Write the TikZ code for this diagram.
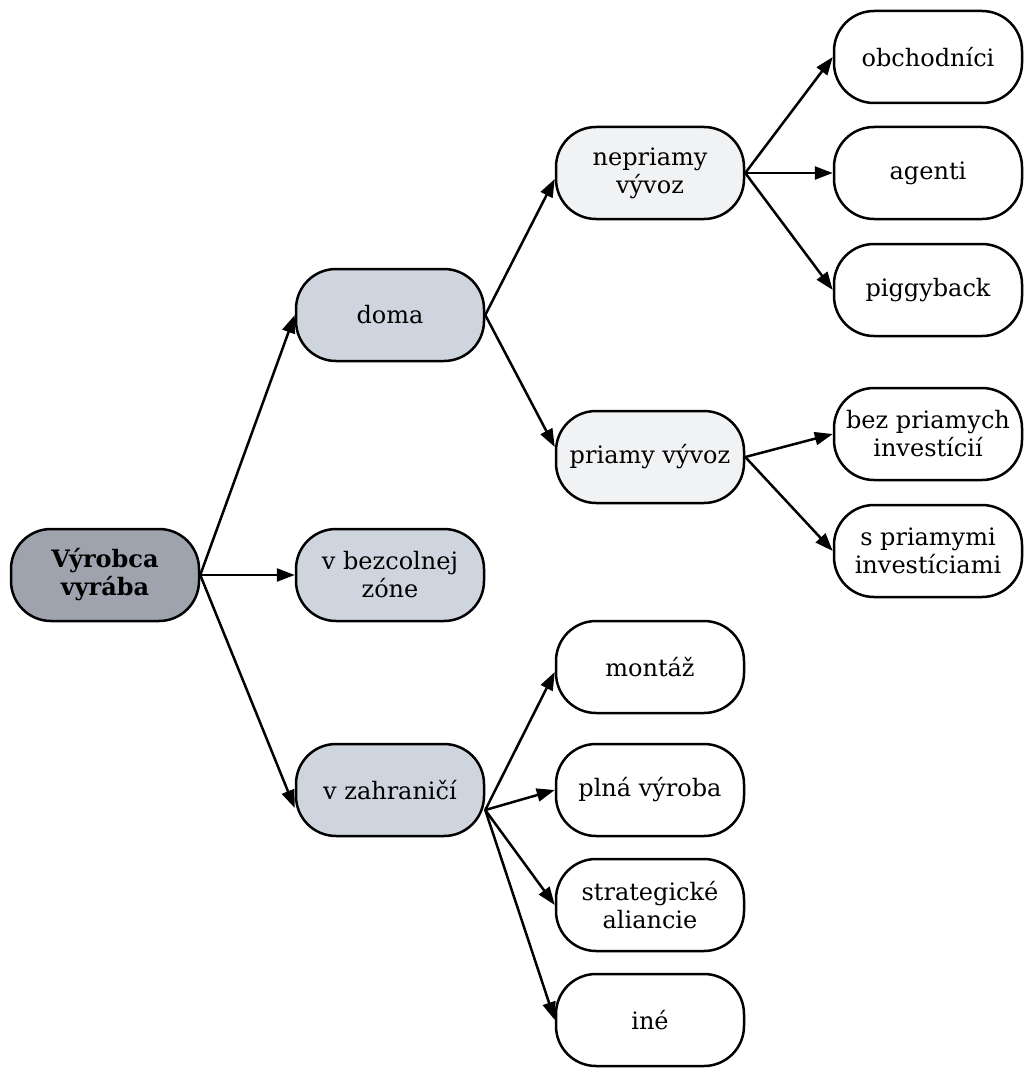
\documentclass[tikz,border=0pt]{standalone}
\usepackage{fontspec}
\setmainfont{DejaVu Serif}
\usepackage{tikz}
\usetikzlibrary{arrows.meta}
\usetikzlibrary{positioning}
\definecolor{rootgray}{HTML}{9EA3AE}
\definecolor{midgray}{HTML}{CFD5DE}
\definecolor{lightgray}{HTML}{F1F2F4}

\begin{document}
\begin{tikzpicture}[x=1pt,y=-1pt,line width=2.5pt,
    box/.style={draw,rectangle,rounded corners=40pt,minimum width=188pt,
      minimum height=92pt,inner xsep=4pt,align=center},
    rootbox/.style={box,fill=rootgray,font=\fontsize{24}{28}\selectfont\bfseries},
    midbox/.style={box,fill=midgray},
    subbox/.style={box,fill=lightgray},
    leafbox/.style={box,fill=white},
    link/.style={-{Triangle[length=18pt,width=13pt]}}]
    \tikzstyle{every node}=[font=\fontsize{24}{28}\selectfont]
    \useasboundingbox (0,0) rectangle (1025,1070);
    \node[rootbox] (Vyrobca) at (105,575) {Výrobca\\vyrába};
    \node[midbox] (doma) at (390,315) {doma};
    \node[midbox] (bezcolna) at (390,575) {v bezcolnej\\zóne};
    \node[midbox] (zahranicie) at (390,790) {v zahraničí};
    \node[subbox] (nepriamy) at (650,173) {nepriamy\\vývoz};
    \node[subbox] (priamy) at (650,457) {priamy vývoz};
    \node[leafbox] (obchodnici) at (928,57) {obchodníci};
    \node[leafbox] (agenti) at (928,173) {agenti};
    \node[leafbox] (piggyback) at (928,290) {piggyback};
    \node[leafbox] (bezPI) at (928,434) {bez priamych\\investícií};
    \node[leafbox] (sPI) at (928,551) {s priamymi\\investíciami};
    \node[leafbox] (montaz) at (650,667) {montáž};
    \node[leafbox] (plna) at (650,790) {plná výroba};
    \node[leafbox] (aliancie) at (650,905) {strategické\\aliancie};
    \node[leafbox] (ine) at (650,1020) {iné};
    \draw[link] (Vyrobca.east) to (doma.west);
    \draw[link] (Vyrobca.east) to (bezcolna.west);
    \draw[link] (Vyrobca.east) to ([yshift=-18pt]zahranicie.west);
    \draw[link] (doma.east) to ([yshift=-6pt]nepriamy.west);
    \draw[link] (doma.east) to ([yshift=10pt]priamy.west);
    \draw[link] (nepriamy.east) to (obchodnici.west);
    \draw[link] (nepriamy.east) to (agenti.west);
    \draw[link] (nepriamy.east) to (piggyback.west);
    \draw[link] (priamy.east) to (bezPI.west);
    \draw[link] (priamy.east) to (sPI.west);
    \draw[link] ([yshift=-20pt]zahranicie.east) to ([yshift=-5pt]montaz.west);
    \draw[link] ([yshift=-20pt]zahranicie.east) to (plna.west);
    \draw[link] ([yshift=-20pt]zahranicie.east) to (aliancie.west);
    \draw[link] ([yshift=-20pt]zahranicie.east) to (ine.west);
\end{tikzpicture}
\end{document}
